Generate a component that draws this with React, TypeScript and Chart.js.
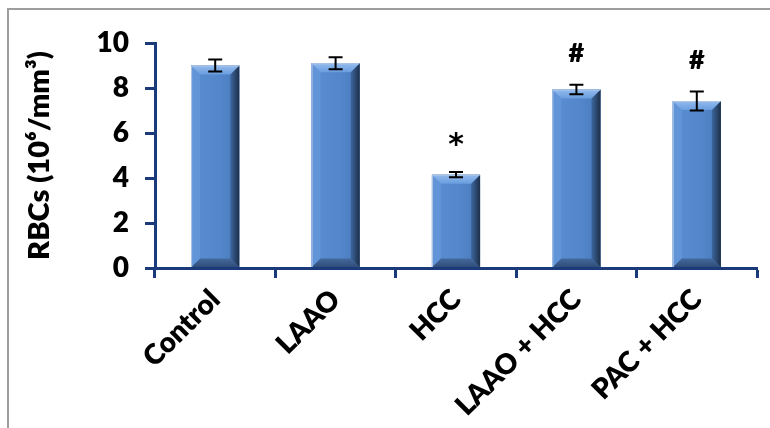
import { useEffect, useRef } from "react";
import { Chart, registerables } from "chart.js";

Chart.register(...registerables);

// Red blood cell counts per group (mean ± SE)
const groups = ["Control", "LAAO", "HCC", "LAAO + HCC", "PAC + HCC"];
const rbcMeans = [9.0, 9.1, 4.15, 7.93, 7.42];
const rbcErrors = [0.27, 0.27, 0.12, 0.21, 0.42];
const significance = ["", "", "*", "#", "#"];
const yTickValues = [0, 2, 4, 6, 8, 10];
const yTitle = "RBCs (10⁶/mm³)";

const AXIS_NAVY = "#1B3A7A";
const FONT = 'Lato, "Open Sans", sans-serif';
const WEIGHT = 800;

// Thin grey frame along the top and left of the figure
const framePlugin = {
  id: "frame",
  beforeDraw(chart: any) {
    const { ctx, width, height } = chart;
    ctx.save();
    ctx.strokeStyle = "#9d9d9d";
    ctx.lineWidth = 2;
    ctx.beginPath();
    ctx.moveTo(8, height);
    ctx.lineTo(8, 9);
    ctx.lineTo(width, 9);
    ctx.stroke();
    ctx.restore();
  },
};

// Bevelled look for each bar, painted inside the bar element's own bounds
const bevelPlugin = {
  id: "bevel",
  afterDatasetsDraw(chart: any) {
    const { ctx } = chart;
    const meta = chart.getDatasetMeta(0);
    meta.data.forEach((bar: any) => {
      const l = bar.x - bar.width / 2;
      const r = bar.x + bar.width / 2;
      const t = bar.y;
      const b = bar.base;
      const s = Math.min(9, (b - t) / 2);
      ctx.save();

      // front face
      const face = ctx.createLinearGradient(l, 0, r, 0);
      face.addColorStop(0, "#5a8ed3");
      face.addColorStop(0.6, "#5386ca");
      face.addColorStop(1, "#487abc");
      ctx.fillStyle = face;
      ctx.fillRect(l, t, r - l, b - t);

      // left bevel
      ctx.fillStyle = "#6195d8";
      ctx.beginPath();
      ctx.moveTo(l, t);
      ctx.lineTo(l + s, t + s);
      ctx.lineTo(l + s, b - s);
      ctx.lineTo(l, b);
      ctx.closePath();
      ctx.fill();

      // right bevel
      const rg = ctx.createLinearGradient(r - s, 0, r, 0);
      rg.addColorStop(0, "#3d679f");
      rg.addColorStop(1, "#1d2f48");
      ctx.fillStyle = rg;
      ctx.beginPath();
      ctx.moveTo(r, t);
      ctx.lineTo(r - s, t + s);
      ctx.lineTo(r - s, b - s);
      ctx.lineTo(r, b);
      ctx.closePath();
      ctx.fill();

      // top bevel
      const tg = ctx.createLinearGradient(0, t, 0, t + s);
      tg.addColorStop(0, "#93bbee");
      tg.addColorStop(1, "#6a9ddf");
      ctx.fillStyle = tg;
      ctx.beginPath();
      ctx.moveTo(l, t);
      ctx.lineTo(r, t);
      ctx.lineTo(r - s, t + s);
      ctx.lineTo(l + s, t + s);
      ctx.closePath();
      ctx.fill();

      // bottom bevel
      const bg = ctx.createLinearGradient(0, b - s, 0, b);
      bg.addColorStop(0, "#44699d");
      bg.addColorStop(1, "#2e4b75");
      ctx.fillStyle = bg;
      ctx.beginPath();
      ctx.moveTo(l, b);
      ctx.lineTo(r, b);
      ctx.lineTo(r - s, b - s);
      ctx.lineTo(l + s, b - s);
      ctx.closePath();
      ctx.fill();

      // light outline
      ctx.strokeStyle = "#b4c8e4";
      ctx.lineWidth = 1;
      ctx.beginPath();
      ctx.moveTo(l + 0.5, b);
      ctx.lineTo(l + 0.5, t + 0.5);
      ctx.lineTo(r - 0.5, t + 0.5);
      ctx.stroke();
      ctx.restore();
    });
  },
};

// Error bars and significance marks
const errorPlugin = {
  id: "errorBars",
  afterDatasetsDraw(chart: any) {
    const { ctx } = chart;
    const yScale = chart.scales.y;
    const meta = chart.getDatasetMeta(0);
    ctx.save();
    ctx.strokeStyle = "#000";
    ctx.lineWidth = 2;
    meta.data.forEach((bar: any, i: number) => {
      const hi = yScale.getPixelForValue(rbcMeans[i] + rbcErrors[i]);
      const lo = yScale.getPixelForValue(rbcMeans[i] - rbcErrors[i]);
      const cap = 7;
      ctx.beginPath();
      ctx.moveTo(bar.x, hi);
      ctx.lineTo(bar.x, lo);
      ctx.moveTo(bar.x - cap, hi);
      ctx.lineTo(bar.x + cap, hi);
      ctx.moveTo(bar.x - cap, lo);
      ctx.lineTo(bar.x + cap, lo);
      ctx.stroke();

      const mark = significance[i];
      if (mark) {
        ctx.fillStyle = "#000";
        ctx.font =
          mark === "*"
            ? 'bold 30px "DejaVu Sans", sans-serif'
            : `${WEIGHT} 27px ${FONT}`;
        ctx.textAlign = "center";
        ctx.textBaseline = "alphabetic";
        const m = ctx.measureText(mark);
        const centre = hi - 32;
        const baseline =
          centre + (m.actualBoundingBoxAscent - m.actualBoundingBoxDescent) / 2;
        ctx.fillText(mark, bar.x, baseline);
      }
    });
    ctx.restore();
  },
};

export default function App() {
  const canvasRef = useRef<HTMLCanvasElement | null>(null);

  useEffect(() => {
    if (!canvasRef.current) return;
    const chart = new Chart(canvasRef.current, {
      type: "bar",
      data: {
        labels: groups,
        datasets: [
          {
            data: rbcMeans,
            backgroundColor: "#5386ca",
            borderWidth: 0,
            categoryPercentage: 1,
            barPercentage: 0.4,
          },
        ],
      },
      options: {
        responsive: false,
        animation: false,
        devicePixelRatio: 1,
        layout: { padding: { left: 0, top: 43, right: 13, bottom: 0 } },
        plugins: {
          legend: { display: false },
          tooltip: { enabled: false },
        },
        scales: {
          x: {
            grid: {
              offset: true,
              drawOnChartArea: false,
              drawTicks: true,
              tickLength: 10,
              tickColor: AXIS_NAVY,
              tickWidth: 3,
            },
            border: { display: true, color: AXIS_NAVY, width: 3, z: 1 },
            ticks: {
              color: "#000",
              font: { family: FONT, size: 28, weight: WEIGHT },
              minRotation: 45,
              maxRotation: 45,
              padding: 5,
            },
            afterFit(scale: any) {
              scale.height = 160;
            },
          },
          y: {
            min: 0,
            max: 10,
            afterBuildTicks(scale: any) {
              scale.ticks = yTickValues.map((v) => ({ value: v }));
            },
            grid: {
              drawOnChartArea: false,
              drawTicks: true,
              tickLength: 10,
              tickColor: AXIS_NAVY,
              tickWidth: 3,
            },
            border: { display: true, color: AXIS_NAVY, width: 3, z: 1 },
            ticks: {
              color: "#000",
              font: { family: FONT, size: 28, weight: WEIGHT },
              padding: 16,
            },
            title: {
              display: true,
              text: yTitle,
              color: "#000",
              font: { family: FONT, size: 29, weight: WEIGHT },
              padding: { top: 22, bottom: 0 },
            },
            afterFit(scale: any) {
              scale.width = 155;
            },
          },
        },
      },
      plugins: [framePlugin, bevelPlugin, errorPlugin],
    });
    return () => chart.destroy();
  }, []);

  return (
    <div style={{ position: "absolute", left: 0, top: 0, width: 770, height: 428 }}>
      <canvas ref={canvasRef} width={770} height={428} />
    </div>
  );
}
